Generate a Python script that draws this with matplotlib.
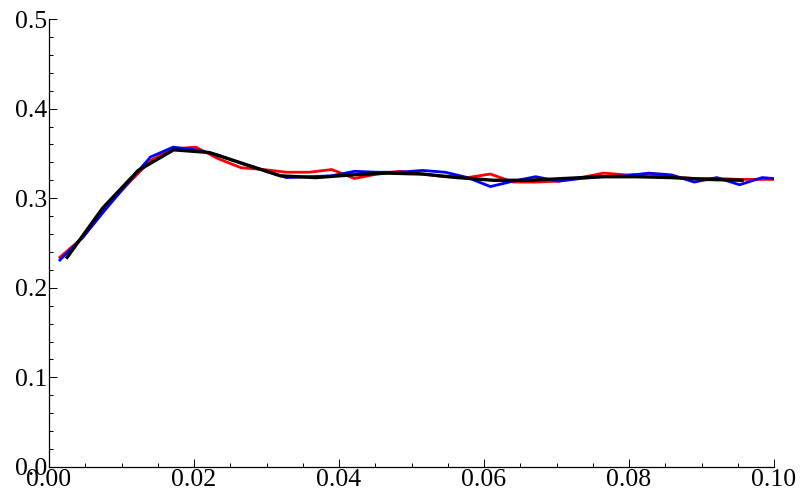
import numpy as np
import matplotlib

matplotlib.use("Agg")
import matplotlib.pyplot as plt
from matplotlib.ticker import MultipleLocator, FormatStrFormatter

# red / blue series share the same sample positions
x_rb = [0.0015 + 0.003125 * k for k in range(33)]
red = [0.234, 0.256, 0.289, 0.316, 0.342, 0.355, 0.357, 0.344, 0.334, 0.332,
       0.329, 0.329, 0.332, 0.322, 0.327, 0.330, 0.327, 0.324, 0.323, 0.327,
       0.318, 0.318, 0.319, 0.323, 0.328, 0.326, 0.327, 0.324, 0.322, 0.322,
       0.321, 0.321, 0.321]
blue = [0.231, 0.256, 0.287, 0.317, 0.346, 0.357, 0.354, 0.348, 0.339, 0.331,
        0.323, 0.324, 0.325, 0.330, 0.329, 0.329, 0.331, 0.329, 0.323, 0.313,
        0.319, 0.324, 0.319, 0.322, 0.324, 0.325, 0.328, 0.326, 0.318, 0.323,
        0.315, 0.323, 0.321]

# black (smoothed) series
x_bk = [0.0025 + 0.0049 * k for k in range(20)]
black = [0.234, 0.289, 0.331, 0.354, 0.351, 0.338, 0.325, 0.323, 0.326, 0.328,
         0.327, 0.323, 0.320, 0.320, 0.322, 0.324, 0.324, 0.323, 0.321, 0.320]

plt.rcParams["font.family"] = ["Liberation Serif", "DejaVu Serif"]

fig = plt.figure(figsize=(8.01, 4.94), dpi=100)
ax = fig.add_axes([0.0612, 0.0547, 0.9051, 0.9068])

ax.plot(x_rb, red, color="#ff0000", lw=2.0, zorder=2)
ax.plot(x_rb, blue, color="#0000ff", lw=2.0, zorder=3)
ax.plot(x_bk, black, color="black", lw=2.4, zorder=4)

ax.set_xlim(0, 0.1)
ax.set_ylim(0, 0.5)
ax.xaxis.set_major_locator(MultipleLocator(0.02))
ax.xaxis.set_minor_locator(MultipleLocator(0.005))
ax.yaxis.set_major_locator(MultipleLocator(0.1))
ax.yaxis.set_minor_locator(MultipleLocator(0.02))
ax.xaxis.set_major_formatter(FormatStrFormatter("%.2f"))
ax.yaxis.set_major_formatter(FormatStrFormatter("%.1f"))

for side in ("top", "right"):
    ax.spines[side].set_visible(False)
for side in ("left", "bottom"):
    ax.spines[side].set_linewidth(0.9)

ax.tick_params(which="both", direction="in", labelsize=18.5, width=0.7)
ax.tick_params(which="major", length=6, pad=1.5)
ax.tick_params(which="minor", length=3)

fig.savefig("out.png", dpi=100)
